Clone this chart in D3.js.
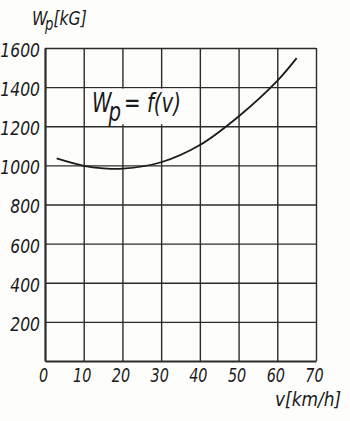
<!DOCTYPE html>
<html>
<head>
<meta charset="utf-8">
<script src="https://cdn.jsdelivr.net/npm/d3@7"></script>
<style>
  html, body { margin: 0; padding: 0; background: #fdfdfb; }
  svg { display: block; }
  .lbl { font-family: "DejaVu Sans", "Liberation Sans", sans-serif; font-style: italic; fill: #1a1a1a; }
</style>
</head>
<body>
<svg id="chart" width="350" height="421"></svg>
<script>
// Resistance W_p [kG] as a function of speed v [km/h]
const speed = [3, 10, 15, 20, 30, 40, 50, 60, 65];
const resistance = [1036, 998, 985, 983, 1016, 1104, 1250, 1432, 1548];
const xTicks = [0, 10, 20, 30, 40, 50, 60, 70];
const yTicks = [200, 400, 600, 800, 1000, 1200, 1400, 1600];

const svg = d3.select("#chart");
const x = d3.scaleLinear().domain([0, 70]).range([45, 316]);
const y = d3.scaleLinear().domain([0, 1600]).range([361, 48]);
const ink = "#2b2b2b";

// squeeze a text horizontally to a narrow, hand-lettered width
function narrow(sel, k) {
  sel.each(function () {
    const w = this.getComputedTextLength();
    d3.select(this).attr("textLength", w * k).attr("lengthAdjust", "spacingAndGlyphs");
  });
}

// vertical grid + x tick labels
const xAxis = svg.append("g")
  .attr("transform", `translate(0,${y(0)})`)
  .call(d3.axisBottom(x).tickValues(xTicks).tickSize(-(y(0) - y(1600))).tickSizeOuter(0).tickPadding(7).tickFormat(d3.format("d")));
xAxis.select(".domain").attr("stroke", ink).attr("stroke-width", 2);
xAxis.selectAll(".tick line").attr("stroke", ink).attr("stroke-width", 1.4);
xAxis.selectAll(".tick text")
  .attr("class", "lbl").attr("font-size", 20).attr("dx", -2).attr("dy", "0.72em")
  .call(narrow, 0.72);

// horizontal grid + y tick labels
const yAxis = svg.append("g")
  .attr("transform", `translate(${x(0)},0)`)
  .call(d3.axisLeft(y).tickValues(yTicks).tickSize(-(x(70) - x(0))).tickSizeOuter(0).tickPadding(5).tickFormat(d3.format("d")));
yAxis.select(".domain").attr("stroke", ink).attr("stroke-width", 2);
yAxis.selectAll(".tick line").attr("stroke", ink).attr("stroke-width", 1.4);
yAxis.selectAll(".tick text")
  .attr("class", "lbl").attr("font-size", 20).attr("dy", "0.42em")
  .call(narrow, 0.78);

// formula label on a paper patch over the grid
svg.append("rect")
  .attr("x", x(10) + 1.5).attr("y", y(1400) + 1.5)
  .attr("width", x(40) - x(10) - 3).attr("height", y(1200) - y(1400) - 3.5)
  .attr("fill", "#fdfdfb");
const f = svg.append("text").attr("class", "lbl")
  .attr("transform", "translate(92,112) scale(0.76,1)").attr("font-size", 26);
f.append("tspan").text("W");
f.append("tspan").attr("dy", 9).attr("dx", -4).text("p");
f.append("tspan").attr("dy", -9).attr("dx", 4).text("= f(v)");

// resistance curve
svg.append("path")
  .datum(speed.map((v, i) => [v, resistance[i]]))
  .attr("fill", "none").attr("stroke", "#1a1a1a").attr("stroke-width", 1.8)
  .attr("d", d3.line().x(d => x(d[0])).y(d => y(d[1])).curve(d3.curveCatmullRom));

// axis titles
const yt = svg.append("text").attr("class", "lbl")
  .attr("transform", "translate(32,25) scale(0.78,1)").attr("font-size", 20);
yt.append("tspan").text("W");
yt.append("tspan").attr("dy", 5).attr("dx", -3).attr("font-size", 17).text("p");
yt.append("tspan").attr("dy", -5).text("[kG]");

svg.append("text").attr("class", "lbl")
  .attr("transform", "translate(275,406) scale(0.85,1)").attr("font-size", 20).text("v[km/h]");
</script>
</body>
</html>
